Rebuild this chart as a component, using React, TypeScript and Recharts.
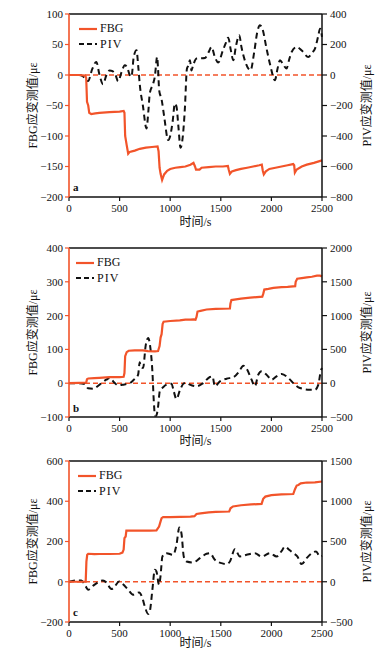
import React from 'react';
import { ComposedChart, Line, XAxis, YAxis, ReferenceLine, Legend } from 'recharts';

const ORANGE = '#f2542a';
const INK = '#111111';
const FONT = '"Liberation Serif", "Times New Roman", "Noto Sans CJK SC", serif';

const timeTicks = [0, 500, 1000, 1500, 2000, 2500];
const xTitle = '时间/s';
const leftTitle = 'FBG应变测值/με';
const rightTitle = 'PIV应变测值/με';
const seriesNames = ['FBG', 'PIV'];

// Panel a
const fbgA: [number, number][] = [[0,0],[100,0],[160,-1],[170,-5],[178,-44],[190,-50],[200,-62],[220,-64],[260,-63],[300,-62],[400,-61],[500,-60],[540,-59],[548,-62],[555,-100],[570,-115],[585,-129],[600,-126],[650,-124],[700,-121],[760,-119],[820,-118],[875,-117],[885,-125],[895,-152],[905,-162],[920,-172],[940,-163],[970,-157],[1000,-154],[1050,-152],[1100,-151],[1150,-150],[1200,-147],[1230,-144],[1245,-150],[1255,-155],[1290,-155],[1310,-152],[1380,-151],[1450,-150],[1520,-150],[1570,-149],[1578,-155],[1590,-162],[1610,-158],[1650,-156],[1700,-154],[1760,-152],[1820,-150],[1880,-148],[1905,-147],[1915,-157],[1925,-163],[1945,-158],[1980,-154],[2040,-152],[2100,-150],[2160,-148],[2215,-146],[2225,-148],[2232,-160],[2250,-155],[2300,-150],[2350,-147],[2420,-144],[2500,-140]];
const pivA: [number, number][] = [[0,0],[100,0],[140,-10],[160,-27],[188,-40],[230,40],[270,86],[300,5],[336,-60],[370,0],[402,30],[430,25],[460,0],[485,-41],[520,20],[551,64],[575,50],[600,0],[617,-12],[640,120],[667,162],[685,50],[700,-67],[730,-200],[766,-350],[785,-230],[798,-121],[830,-60],[848,-12],[871,118],[880,40],[891,-100],[915,-160],[940,-270],[980,-427],[1000,-400],[1025,-300],[1046,-187],[1063,-210],[1080,-330],[1102,-477],[1125,-400],[1145,-220],[1165,40],[1178,60],[1195,97],[1210,30],[1225,60],[1260,108],[1300,110],[1343,112],[1380,150],[1409,184],[1440,120],[1474,82],[1520,160],[1550,210],[1573,245],[1600,160],[1623,97],[1650,190],[1682,261],[1705,180],[1740,90],[1794,31],[1830,150],[1860,280],[1887,326],[1913,300],[1950,180],[1990,60],[2035,-34],[2060,40],[2085,97],[2115,70],[2150,43],[2175,100],[2200,151],[2250,184],[2300,160],[2365,118],[2400,145],[2431,173],[2464,260],[2480,304],[2490,290],[2500,250]];

// Panel b
const fbgB: [number, number][] = [[0,0],[100,1],[170,2],[178,12],[190,14],[250,15],[300,16],[400,18],[500,18],[540,19],[548,30],[555,80],[570,92],[590,96],[650,97],[730,97],[780,95],[850,94],[880,95],[895,110],[905,135],[915,145],[925,175],[935,182],[1000,184],[1095,186],[1150,188],[1200,188],[1230,189],[1250,188],[1260,196],[1270,212],[1300,214],[1360,218],[1450,220],[1590,221],[1595,235],[1605,246],[1650,248],[1700,250],[1790,253],[1910,256],[1920,265],[1930,277],[1970,279],[2020,282],[2100,284],[2160,285],[2235,287],[2240,300],[2255,309],[2300,311],[2350,313],[2400,315],[2450,318],[2480,318],[2500,316]];
const pivB: [number, number][] = [[0,0],[100,0],[155,-12],[188,-75],[237,-82],[303,-20],[369,52],[402,77],[452,2],[484,-32],[530,-22],[600,0],[640,50],[660,77],[683,126],[699,310],[710,240],[732,225],[758,560],[782,670],[805,510],[824,175],[838,-269],[850,-480],[862,-480],[880,-350],[897,-121],[930,-60],[964,-22],[1013,-7],[1035,-120],[1062,-234],[1095,-110],[1134,-2],[1160,5],[1194,-22],[1260,-46],[1326,2],[1392,92],[1418,101],[1441,-46],[1491,27],[1557,67],[1623,87],[1682,175],[1722,259],[1755,215],[1804,52],[1837,-46],[1870,126],[1903,175],[1952,126],[2002,52],[2051,101],[2101,136],[2167,77],[2233,-22],[2282,-71],[2381,-96],[2431,-96],[2464,-22],[2487,175],[2500,225]];

// Panel c
const fbgC: [number, number][] = [[0,0],[100,0],[165,0],[172,100],[180,134],[190,139],[250,137],[300,138],[400,138],[500,139],[528,145],[540,160],[548,217],[560,225],[567,254],[620,254],[700,254],[800,254],[864,255],[890,274],[905,300],[915,316],[930,321],[1000,321],[1100,322],[1200,324],[1240,326],[1260,337],[1300,340],[1380,345],[1450,347],[1583,349],[1596,365],[1620,374],[1700,380],[1800,384],[1903,387],[1919,412],[1940,423],[2000,430],[2100,434],[2216,436],[2233,460],[2250,478],[2266,481],[2290,489],[2350,493],[2430,494],[2500,498]];
const pivC: [number, number][] = [[0,0],[73,16],[122,16],[165,-58],[188,-99],[237,-50],[303,4],[336,17],[369,-8],[419,-91],[452,-58],[495,4],[528,-25],[584,-99],[633,-161],[693,-132],[725,-202],[749,-306],[782,-400],[798,-370],[824,-99],[848,149],[864,128],[890,-37],[904,66],[923,314],[963,355],[1029,335],[1062,459],[1090,673],[1111,603],[1134,314],[1161,252],[1227,240],[1293,293],[1359,347],[1392,355],[1441,273],[1507,231],[1557,219],[1590,252],[1639,405],[1689,314],[1755,335],[1837,355],[1903,313],[1986,355],[2052,313],[2100,380],[2134,437],[2175,397],[2216,355],[2256,314],[2299,219],[2348,293],[2441,376],[2480,313],[2500,323]];

const toRows = (pts: [number, number][]) => pts.map(([t, v]) => ({ t, v }));

const fmt = (v: number) => (v < 0 ? '\u2212' + Math.abs(v) : String(v));

const tickStyle = { fontFamily: FONT, fontSize: 11, fill: INK };

type PanelProps = {
  top: number;
  height: number;
  marginTop: number;
  fbg: [number, number][];
  piv: [number, number][];
  leftDomain: [number, number];
  leftTicks: number[];
  rightDomain: [number, number];
  rightTicks: number[];
  letter: string;
  legendX: number;
  letterY: number;
  labelOffset: number;
};

function LegendBox() {
  return (
    <div style={{ fontFamily: FONT, fontSize: 12, color: INK, lineHeight: '15.5px' }}>
      <div style={{ display: 'flex', alignItems: 'center' }}>
        <svg width={19} height={6} style={{ marginRight: 2 }}>
          <line x1={0} y1={3} x2={18} y2={3} stroke={ORANGE} strokeWidth={2.2} />
        </svg>
        <span>{seriesNames[0]}</span>
      </div>
      <div style={{ display: 'flex', alignItems: 'center' }}>
        <svg width={19} height={6} style={{ marginRight: 2 }}>
          <line x1={0} y1={3} x2={18} y2={3} stroke={INK} strokeWidth={2.2} strokeDasharray="5 3" />
        </svg>
        <span style={{ letterSpacing: 1 }}>{seriesNames[1]}</span>
      </div>
    </div>
  );
}

function Panel(p: PanelProps) {
  return (
    <div style={{ position: 'absolute', left: 0, top: p.top, width: 390, height: p.height }}>
      <ComposedChart width={390} height={p.height} margin={{ top: p.marginTop, right: 0, bottom: 0, left: 0 }}>
        <XAxis
          xAxisId="x"
          dataKey="t"
          type="number"
          domain={[0, 2500]}
          ticks={timeTicks}
          height={35}
          tickSize={4}
          tickMargin={3}
          tick={tickStyle}
          axisLine={{ stroke: INK, strokeWidth: 1.5 }}
          tickLine={{ stroke: INK, strokeWidth: 1.2 }}
          label={{ value: xTitle, position: 'insideBottom', offset: p.labelOffset, style: { fontFamily: FONT, fontSize: 12, fill: INK } }}
        />
        <YAxis
          yAxisId="left"
          orientation="left"
          type="number"
          domain={p.leftDomain}
          ticks={p.leftTicks}
          width={69}
          tickSize={4}
          tickMargin={2}
          tick={tickStyle}
          tickFormatter={fmt}
          axisLine={{ stroke: ORANGE, strokeWidth: 1.6 }}
          tickLine={{ stroke: ORANGE, strokeWidth: 1.2 }}
          allowDataOverflow
          label={{ value: leftTitle, angle: -90, position: 'center', dx: -2, style: { fontFamily: FONT, fontSize: 12, fill: INK } }}
        />
        <YAxis
          yAxisId="right"
          orientation="right"
          type="number"
          domain={p.rightDomain}
          ticks={p.rightTicks}
          width={68}
          tickSize={5}
          tickMargin={3}
          tick={tickStyle}
          tickFormatter={fmt}
          axisLine={{ stroke: INK, strokeWidth: 1.5 }}
          tickLine={{ stroke: INK, strokeWidth: 1.2 }}
          allowDataOverflow
          label={{ value: rightTitle, angle: -90, position: 'center', dx: 11, style: { fontFamily: FONT, fontSize: 12, fill: INK } }}
        />
        <ReferenceLine xAxisId="x" yAxisId="left" y={p.leftDomain[1]} stroke={INK} strokeWidth={1.5} />
        <ReferenceLine xAxisId="x" yAxisId="left" y={0} stroke={ORANGE} strokeWidth={1.5} strokeDasharray="5 3" />
        <Line
          xAxisId="x"
          yAxisId="right"
          data={toRows(p.piv)}
          dataKey="v"
          name={seriesNames[1]}
          type="monotone"
          dot={false}
          stroke={INK}
          strokeWidth={2}
          strokeDasharray="6 4"
          isAnimationActive={false}
        />
        <Line
          xAxisId="x"
          yAxisId="left"
          data={toRows(p.fbg)}
          dataKey="v"
          name={seriesNames[0]}
          type="linear"
          dot={false}
          stroke={ORANGE}
          strokeWidth={2.2}
          isAnimationActive={false}
        />
        <Legend
          layout="horizontal"
          verticalAlign="middle"
          align="center"
          content={() => <LegendBox />}
          wrapperStyle={{ position: 'absolute', left: p.legendX, top: p.marginTop + 7, width: 70, height: 34 }}
        />
      </ComposedChart>
      <div
        style={{ position: 'absolute', left: 73, top: p.letterY, fontFamily: FONT, fontSize: 11, fontWeight: 'bold', color: INK }}
      >
        {p.letter}
      </div>
    </div>
  );
}

export default function App() {
  return (
    <div style={{ position: 'absolute', left: 0, top: 0, width: 390, height: 657, background: '#fff' }}>
      <Panel top={0} height={232} marginTop={14} fbg={fbgA} piv={pivA}
        leftDomain={[-200, 100]} leftTicks={[-200, -150, -100, -50, 0, 50, 100]}
        rightDomain={[-800, 400]} rightTicks={[-800, -600, -400, -200, 0, 200, 400]}
        letter="a" legendX={79} letterY={181} labelOffset={6} />
      <Panel top={232} height={220} marginTop={16} fbg={fbgB} piv={pivB}
        leftDomain={[-100, 400]} leftTicks={[-100, 0, 100, 200, 300, 400]}
        rightDomain={[-500, 2000]} rightTicks={[-500, 0, 500, 1000, 1500, 2000]}
        letter="b" legendX={76} letterY={170} labelOffset={7} />
      <Panel top={445} height={212} marginTop={16} fbg={fbgC} piv={pivC}
        leftDomain={[-200, 600]} leftTicks={[-200, 0, 200, 400, 600]}
        rightDomain={[-500, 1500]} rightTicks={[-500, 0, 500, 1000, 1500]}
        letter="c" legendX={78} letterY={161} labelOffset={10} />
    </div>
  );
}
